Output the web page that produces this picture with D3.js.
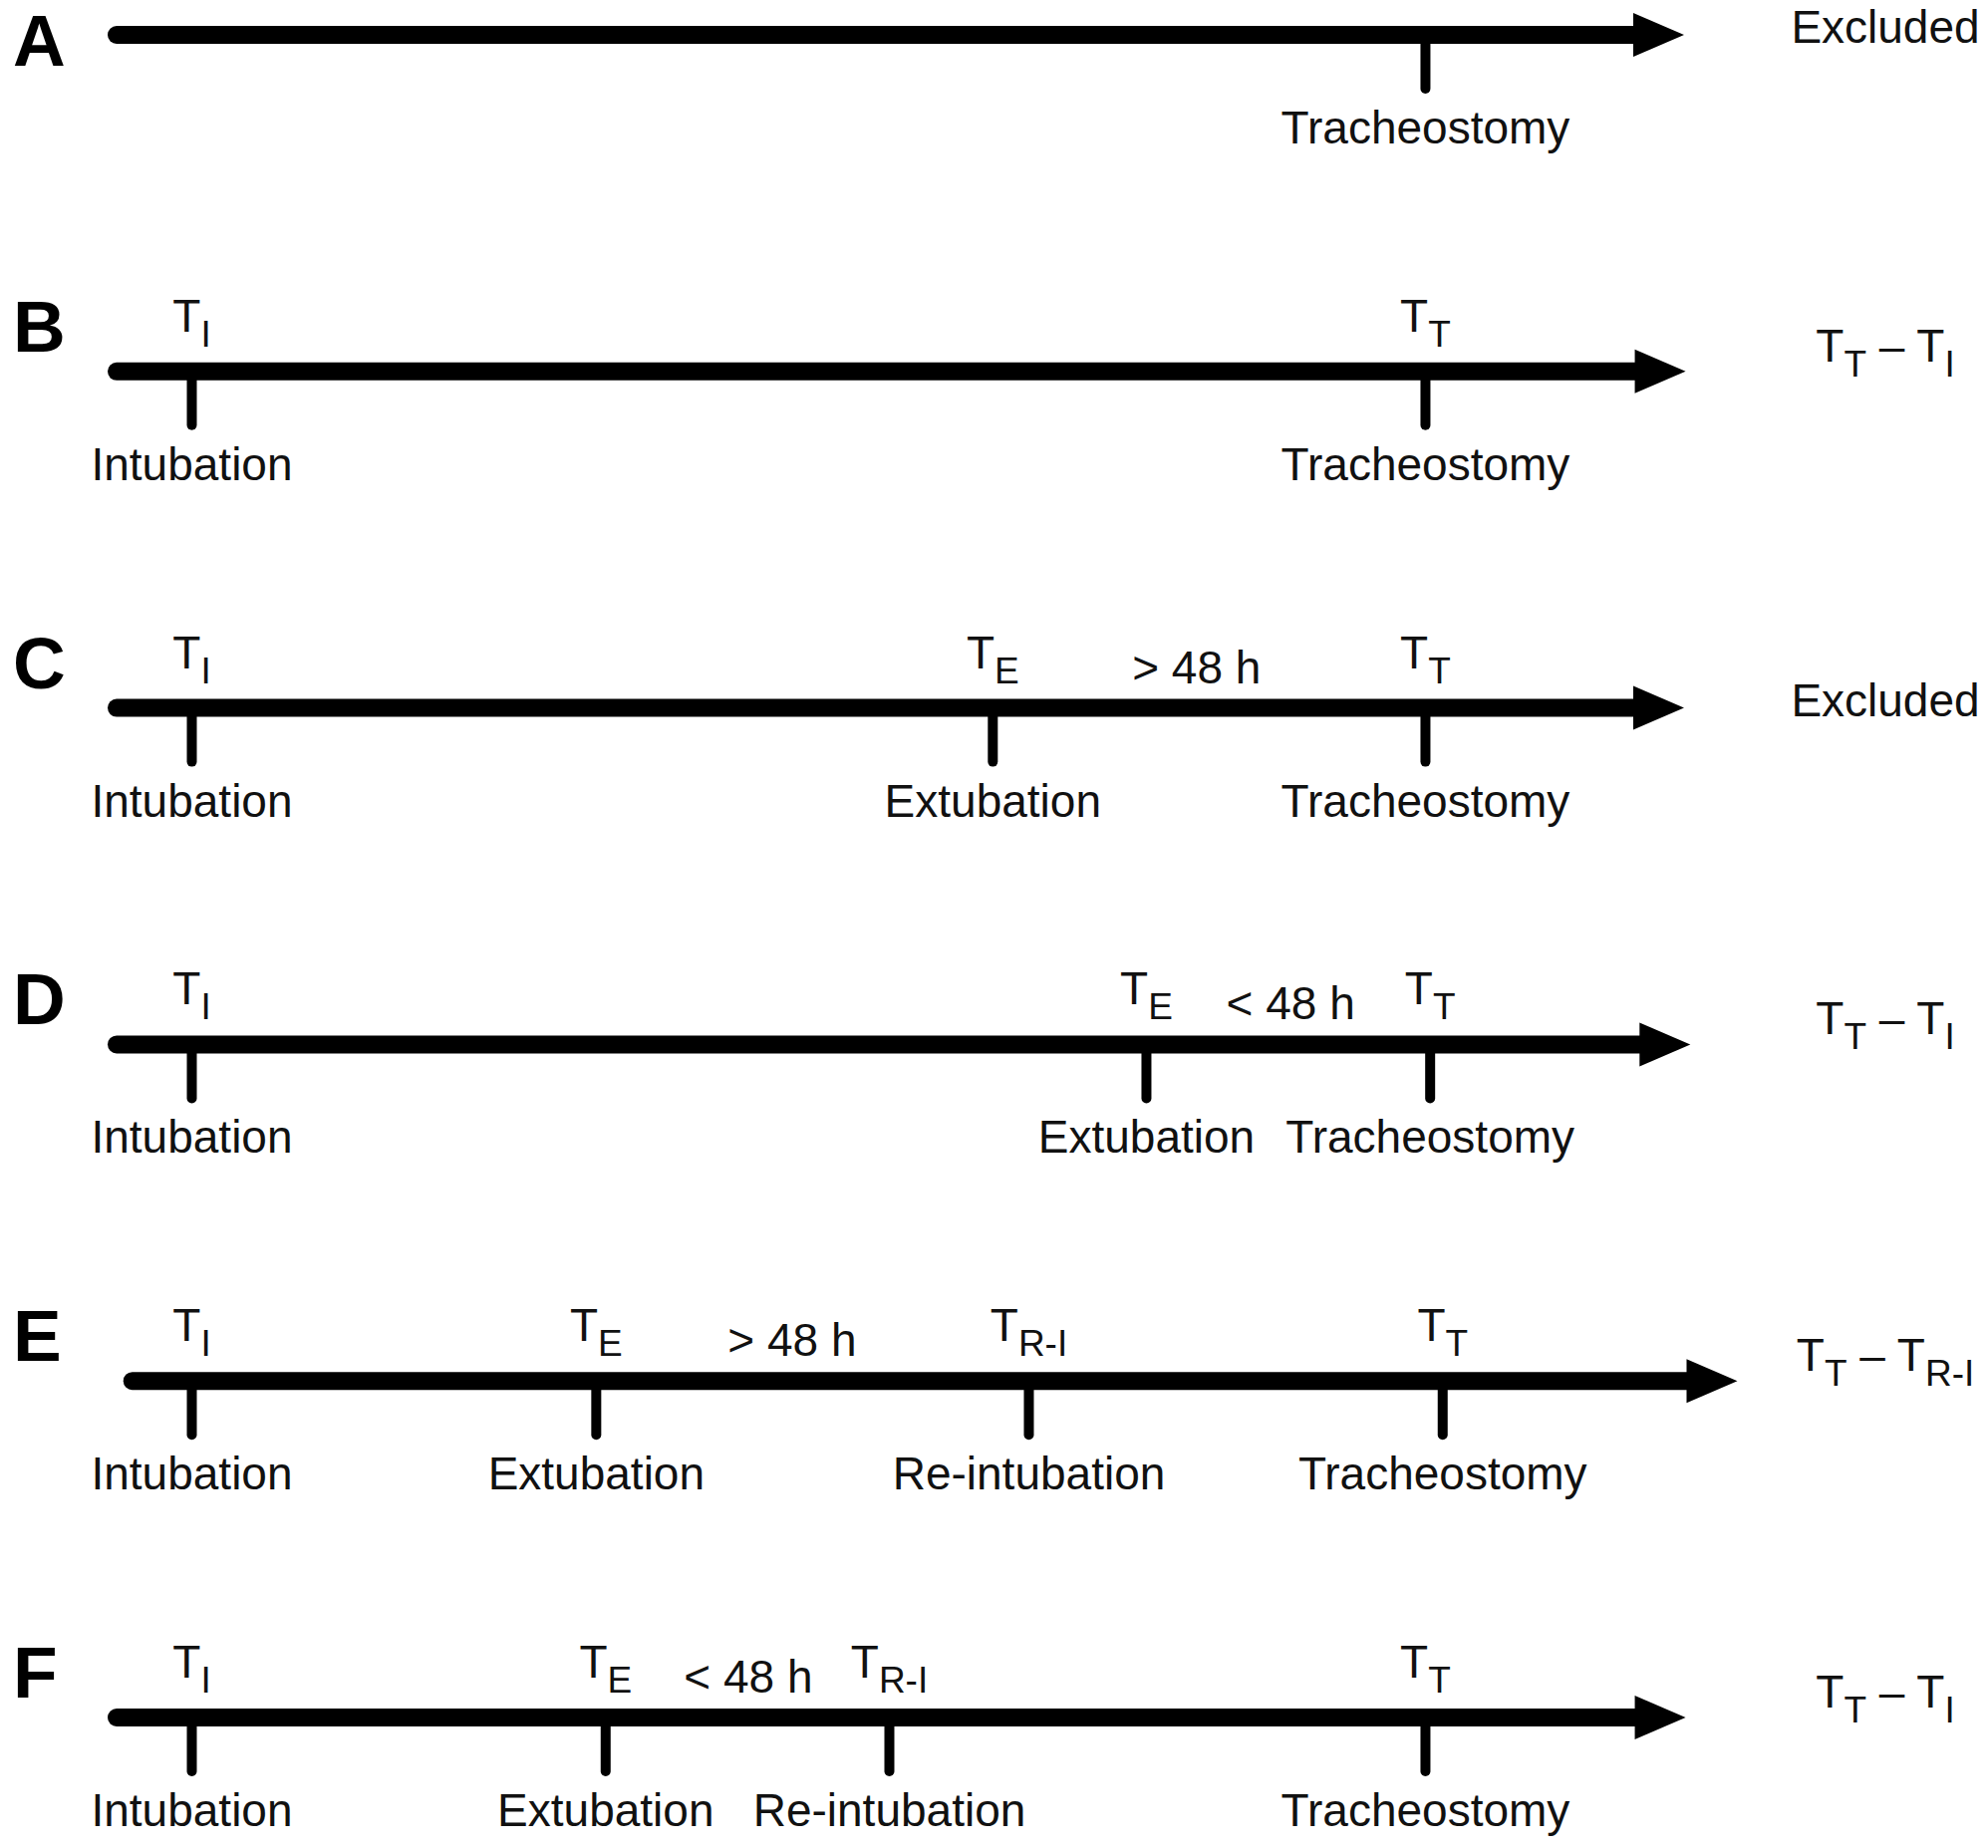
<!DOCTYPE html>
<html>
<head>
<meta charset="utf-8">
<script src="https://cdn.jsdelivr.net/npm/d3@7"></script>
<style>
  body { margin: 0; background: #fff; }
  text { font-family: "Liberation Sans", Arial, sans-serif; fill: #111; }
</style>
</head>
<body>
<div id="chart-area"></div>
<script>
// panels, top to bottom
var rowLetters = ["A", "B", "C", "D", "E", "F"];

// where each timeline starts / ends (arrow tip), on a 0-100 time scale
var lineStarts = [0, 0, 0, 0, 1, 0];
var lineEnds = [100, 100.1, 100, 100.4, 103.4, 100.1];

// events on each timeline
var eventTimes = [
  [83.5],
  [4.8, 83.5],
  [4.8, 55.9, 83.5],
  [4.8, 65.7, 83.8],
  [4.8, 30.6, 58.2, 84.6],
  [4.8, 31.2, 49.3, 83.5]
];
var eventNames = [
  ["Tracheostomy"],
  ["Intubation", "Tracheostomy"],
  ["Intubation", "Extubation", "Tracheostomy"],
  ["Intubation", "Extubation", "Tracheostomy"],
  ["Intubation", "Extubation", "Re-intubation", "Tracheostomy"],
  ["Intubation", "Extubation", "Re-intubation", "Tracheostomy"]
];
// subscript of the "T" symbol above each event (null = no symbol)
var eventSubs = [
  [null],
  ["I", "T"],
  ["I", "E", "T"],
  ["I", "E", "T"],
  ["I", "E", "R-I", "T"],
  ["I", "E", "R-I", "T"]
];

// interval notes between events
var gapLabels = [null, null, "> 48 h", "< 48 h", "> 48 h", "< 48 h"];
var gapTimes = [null, null, 68.9, 74.9, 43.1, 40.3];

// outcome on the right: null = "Excluded", else [sub of first T, sub of second T]
var outcomes = [null, ["T", "I"], null, ["T", "I"], ["T", "R-I"], ["T", "I"]];

var width = 1995, height = 1855;

var svg = d3.select("#chart-area")
  .append("svg")
    .attr("width", width)
    .attr("height", height);

var x = d3.scaleLinear()
  .domain([0, 100])
  .range([117, 1690]);

var y = d3.scalePoint()
  .domain(rowLetters)
  .range([35, 1724]);

var lineW = 18, headLen = 51, headHalf = 22, tickLen = 54;

rowLetters.forEach(function(letter, i) {
  var g = svg.append("g").attr("transform", "translate(0," + y(letter) + ")");
  var hasSymbols = eventSubs[i].some(function(s) { return s; });

  // panel letter
  g.append("text")
    .attr("x", 13)
    .attr("y", hasSymbols ? -20 : 31)
    .attr("font-size", "73px")
    .attr("font-weight", "bold")
    .style("fill", "#000")
    .text(letter);

  // timeline
  var x0 = x(lineStarts[i]), x1 = x(lineEnds[i]);
  g.append("line")
    .attr("x1", x0).attr("x2", x1 - headLen + 2)
    .attr("y1", 0).attr("y2", 0)
    .attr("stroke", "#000")
    .attr("stroke-width", lineW)
    .attr("stroke-linecap", "round");
  g.append("path")
    .attr("d", "M" + (x1 - headLen) + "," + (-headHalf) + "L" + x1 + ",0L" + (x1 - headLen) + "," + headHalf + "Z")
    .attr("fill", "#000");

  // events
  var ev = g.selectAll(".event")
    .data(eventTimes[i].map(function(t, j) {
      return { t: t, name: eventNames[i][j], sub: eventSubs[i][j] };
    }))
    .enter().append("g")
      .attr("class", "event")
      .attr("transform", function(d) { return "translate(" + x(d.t) + ",0)"; });

  ev.append("line")
    .attr("y1", 0).attr("y2", tickLen)
    .attr("stroke", "#000")
    .attr("stroke-width", 10)
    .attr("stroke-linecap", "round");

  ev.append("text")
    .attr("y", 109)
    .attr("text-anchor", "middle")
    .attr("font-size", "46px")
    .text(function(d) { return d.name; });

  var sym = ev.filter(function(d) { return d.sub; })
    .append("text")
      .attr("y", -40)
      .attr("text-anchor", "middle")
      .attr("font-size", "46px");
  sym.append("tspan").text("T");
  sym.append("tspan")
    .attr("dy", 15)
    .attr("font-size", "37px")
    .text(function(d) { return d.sub; });

  // interval note
  if (gapLabels[i]) {
    g.append("text")
      .attr("x", x(gapTimes[i]))
      .attr("y", -25)
      .attr("text-anchor", "middle")
      .attr("font-size", "46px")
      .text(gapLabels[i]);
  }

  // outcome
  if (!outcomes[i]) {
    g.append("text")
      .attr("x", 1892)
      .attr("y", 8)
      .attr("text-anchor", "middle")
      .attr("font-size", "46px")
      .text("Excluded");
  } else {
    var o = g.append("text")
      .attr("x", 1892)
      .attr("y", -10)
      .attr("text-anchor", "middle")
      .attr("font-size", "46px");
    o.append("tspan").text("T");
    o.append("tspan").attr("dy", 15).attr("font-size", "37px").text(outcomes[i][0]);
    o.append("tspan").attr("dy", -15).text(" \u2013 T");
    o.append("tspan").attr("dy", 15).attr("font-size", "37px").text(outcomes[i][1]);
  }
});
</script>
</body>
</html>
